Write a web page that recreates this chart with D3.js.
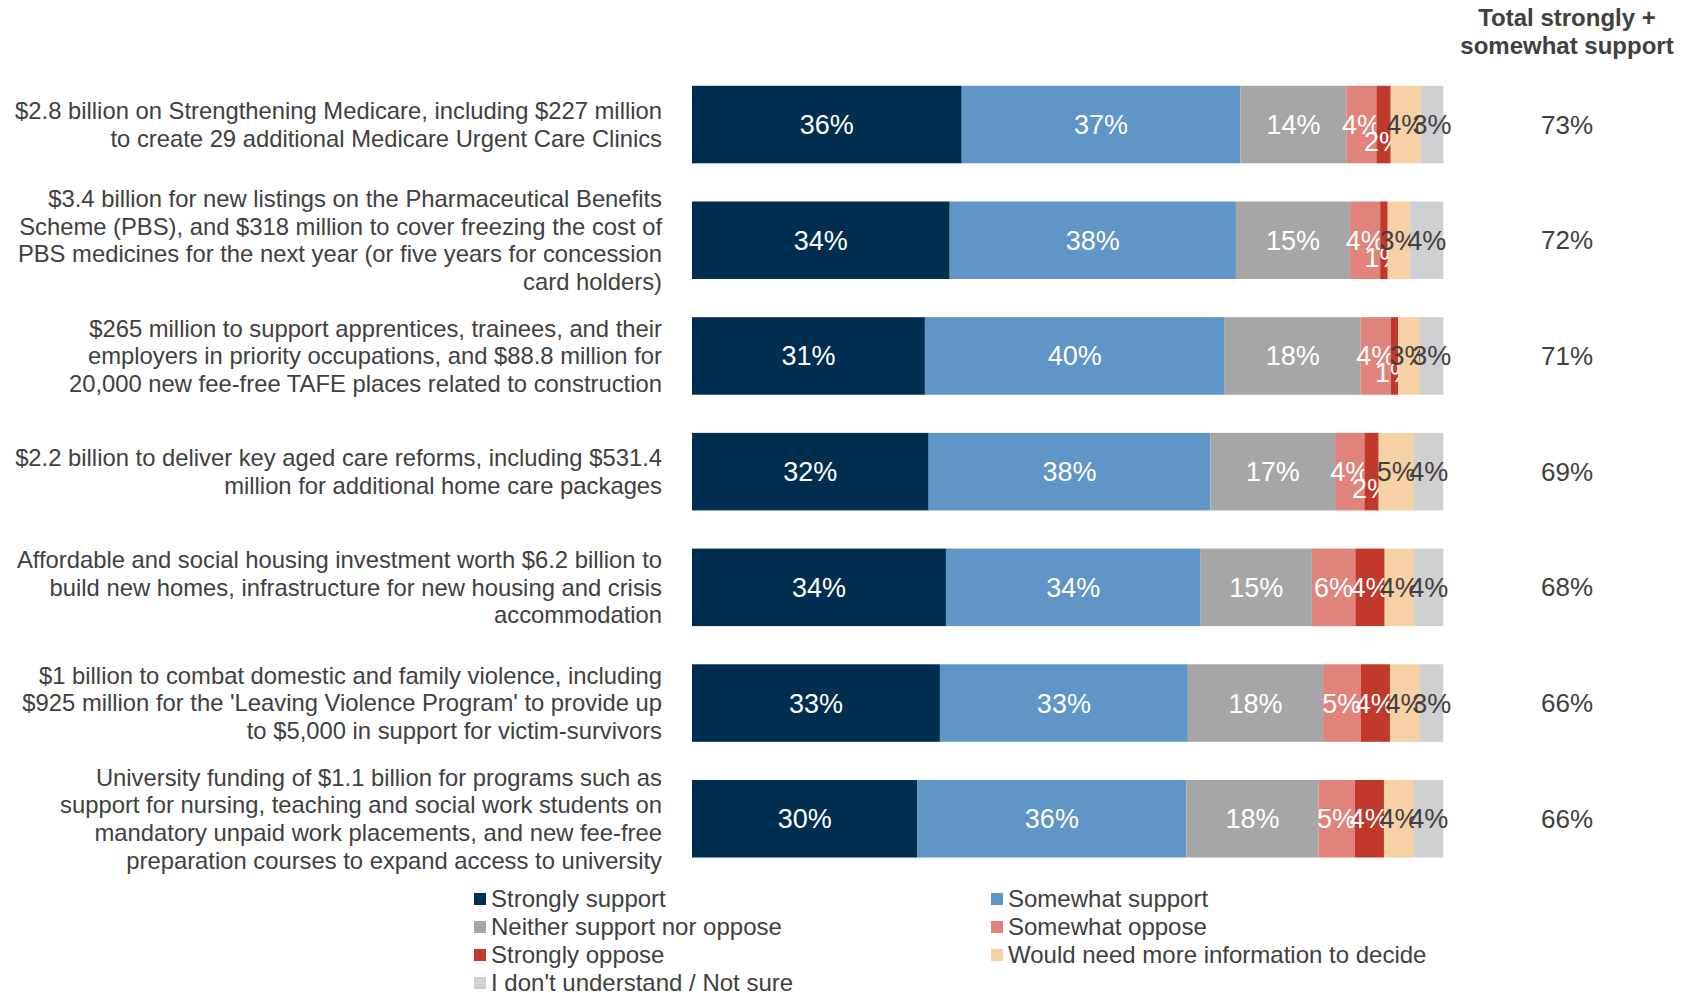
<!DOCTYPE html>
<html>
<head>
<meta charset="utf-8">
<script src="https://cdn.jsdelivr.net/npm/d3@7"></script>
<style>
  body { margin: 0; background: #fff; }
  svg { font-family: "Liberation Sans", Arial, sans-serif; }
</style>
</head>
<body>
<div id="chart"></div>
<script>
// categories (one entry per bar, split in lines as in the source)
var categories = [
  ["$2.8 billion on Strengthening Medicare, including $227 million",
   "to create 29 additional Medicare Urgent Care Clinics"],
  ["$3.4 billion for new listings on the Pharmaceutical Benefits",
   "Scheme (PBS), and $318 million to cover freezing the cost of",
   "PBS medicines for the next year (or five years for concession",
   "card holders)"],
  ["$265 million to support apprentices, trainees, and their",
   "employers in priority occupations, and $88.8 million for",
   "20,000 new fee-free TAFE places related to construction"],
  ["$2.2 billion to deliver key aged care reforms, including $531.4",
   "million for additional home care packages"],
  ["Affordable and social housing investment worth $6.2 billion to",
   "build new homes, infrastructure for new housing and crisis",
   "accommodation"],
  ["$1 billion to combat domestic and family violence, including",
   "$925 million for the 'Leaving Violence Program' to provide up",
   "to $5,000 in support for victim-survivors"],
  ["University funding of $1.1 billion for programs such as",
   "support for nursing, teaching and social work students on",
   "mandatory unpaid work placements, and new fee-free",
   "preparation courses to expand access to university"]
];

var seriesNames = ["Strongly support", "Somewhat support", "Neither support nor oppose",
  "Somewhat oppose", "Strongly oppose", "Would need more information to decide",
  "I don't understand / Not sure"];

// series values, per bar (%)
var stronglySupport  = [35.9, 34.3, 31.0, 31.5, 33.8, 33.0, 30.0];
var somewhatSupport  = [37.1, 38.1, 39.9, 37.5, 33.9, 33.0, 35.8];
var neither          = [14.1, 15.2, 18.1, 16.6, 14.8, 18.0, 17.6];
var somewhatOppose   = [ 4.0,  4.0,  4.0,  3.9,  5.8,  5.0,  4.8];
var stronglyOppose   = [ 1.9,  1.0,  1.0,  1.9,  3.9,  3.9,  3.9];
var needMoreInfo     = [ 4.0,  3.0,  2.9,  4.7,  3.9,  4.0,  4.0];
var notSure          = [ 3.0,  4.4,  3.1,  3.9,  3.9,  3.1,  3.9];

var colors = ["#002e50", "#6095c7", "#a6a6a6", "#e0837a", "#c0392b", "#f6d1a6", "#d0cfd1"];
var labelColors = ["#fff", "#fff", "#fff", "#fff", "#fff", "#404040", "#404040"];

var W = 1692, H = 993;
var svg = d3.select("#chart").append("svg").attr("width", W).attr("height", H);

var keys = d3.range(seriesNames.length).map(String);
var rows = categories.map(function(c, i) {
  return {
    id: i,
    "0": stronglySupport[i], "1": somewhatSupport[i], "2": neither[i],
    "3": somewhatOppose[i], "4": stronglyOppose[i], "5": needMoreInfo[i], "6": notSure[i]
  };
});

var stack = d3.stack().keys(keys)(rows);

var x = d3.scaleLinear().domain([0, 100]).range([692, 1443.3]);
var y = d3.scaleBand().domain(d3.range(categories.length))
  .range([66.7, 876.6]).paddingInner(0.33).paddingOuter(0.165);

var fmt = function(v) { return Math.round(v + 1e-9) + "%"; };

// bars
var layers = svg.selectAll(".layer").data(stack).enter().append("g")
  .attr("class", "layer")
  .attr("fill", function(d, i) { return colors[i]; });

layers.selectAll("rect").data(function(d) { return d; }).enter().append("rect")
  .attr("x", function(d) { return x(d[0]); })
  .attr("y", function(d, i) { return y(i); })
  .attr("width", function(d) { return x(d[1]) - x(d[0]); })
  .attr("height", y.bandwidth());

// segment labels
layers.each(function(layer, k) {
  d3.select(this).selectAll("text").data(layer).enter().append("text")
    .attr("x", function(d) { return (x(d[0]) + x(d[1])) / 2; })
    .attr("y", function(d, i) {
      var c = y(i) + y.bandwidth() / 2;
      // small red slices get their label pushed down, as in the source
      return (k === 4 && d[1] - d[0] < 3) ? c + 17 : c;
    })
    .attr("dy", "0.35em")
    .attr("text-anchor", "middle")
    .attr("font-size", 27)
    .attr("fill", labelColors[k])
    .text(function(d) { return fmt(d[1] - d[0]); });
});

// category labels
var labels = svg.selectAll(".cat").data(categories).enter().append("text")
  .attr("class", "cat")
  .attr("text-anchor", "end")
  .attr("font-size", 23.8)
  .attr("fill", "#404040");
var lh = 27.7;
labels.each(function(lines, i) {
  var t = d3.select(this);
  var c = y(i) + y.bandwidth() / 2;
  lines.forEach(function(line, j) {
    t.append("tspan")
      .attr("x", 662)
      .attr("y", c + (j - (lines.length - 1) / 2) * lh)
      .attr("dy", "0.35em")
      .text(line);
  });
});

// totals column
var totX = 1567;
svg.append("text").attr("x", totX).attr("y", 18).attr("dy", "0.35em")
  .attr("text-anchor", "middle").attr("font-size", 24).attr("font-weight", "bold")
  .attr("fill", "#404040").text("Total strongly +");
svg.append("text").attr("x", totX).attr("y", 46).attr("dy", "0.35em")
  .attr("text-anchor", "middle").attr("font-size", 24).attr("font-weight", "bold")
  .attr("fill", "#404040").text("somewhat support");

svg.selectAll(".total").data(rows).enter().append("text")
  .attr("class", "total")
  .attr("x", totX)
  .attr("y", function(d, i) { return y(i) + y.bandwidth() / 2; })
  .attr("dy", "0.35em")
  .attr("text-anchor", "middle")
  .attr("font-size", 26)
  .attr("fill", "#404040")
  .text(function(d) { return fmt(d["0"] + d["1"]); });

// legend
var legend = svg.selectAll(".legend").data(seriesNames).enter().append("g")
  .attr("class", "legend")
  .attr("transform", function(d, i) {
    var col = i % 2, row = Math.floor(i / 2);
    return "translate(" + (col ? 991 : 474) + "," + (899 + row * 28) + ")";
  });
legend.append("rect").attr("x", 0).attr("y", -6).attr("width", 12).attr("height", 12)
  .attr("fill", function(d, i) { return colors[i]; });
legend.append("text").attr("x", 17).attr("dy", "0.35em")
  .attr("font-size", 24).attr("fill", "#404040")
  .text(function(d) { return d; });
</script>
</body>
</html>
